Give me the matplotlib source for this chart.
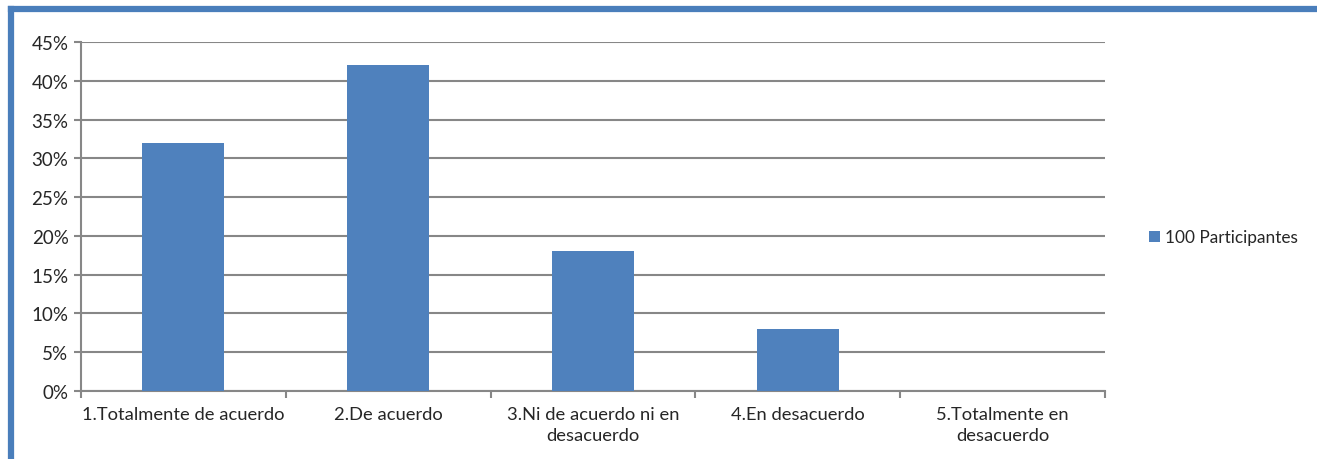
import matplotlib.pyplot as plt
from matplotlib.lines import Line2D
import numpy as np

categories = [
    "1.Totalmente de acuerdo",
    "2.De acuerdo",
    "3.Ni de acuerdo ni en\ndesacuerdo",
    "4.En desacuerdo",
    "5.Totalmente en\ndesacuerdo",
]
values = [32, 42, 18, 8, 0]
series_name = "100 Participantes"
yticks = [0, 5, 10, 15, 20, 25, 30, 35, 40, 45]

plt.rcParams["font.family"] = ["Lato", "DejaVu Sans"]

bar_color = "#4F81BD"
grid_color = "#878787"
text_color = "#262626"

fig = plt.figure(figsize=(13.17, 4.6), dpi=100)
ax = fig.add_axes([0.0615, 0.1478, 0.7775, 0.7587])

x = np.arange(len(categories))
ax.bar(x, values, width=0.4, color=bar_color, label=series_name, zorder=3)

ax.set_xlim(-0.5, len(categories) - 0.5)
ax.set_ylim(0, 45)
ax.set_yticks(yticks)
ax.set_yticklabels([f"{v}%" for v in yticks], fontsize=13.5, color=text_color)
ax.yaxis.grid(True, color=grid_color, linewidth=1.5, zorder=0)

ax.set_xticks(x)
ax.set_xticklabels(categories, fontsize=13.2, color=text_color, linespacing=1.35)
ax.set_xticks(np.arange(-0.5, len(categories)), minor=True)
ax.tick_params(axis="x", which="major", length=0, pad=11)
ax.tick_params(axis="x", which="minor", length=5, width=1.5, color=grid_color)
ax.tick_params(axis="y", length=5, width=1.5, color=grid_color, pad=4)

for side in ["top", "right"]:
    ax.spines[side].set_visible(False)
for side in ["left", "bottom"]:
    ax.spines[side].set_color(grid_color)
    ax.spines[side].set_linewidth(1.5)

ax.legend(loc="center left", bbox_to_anchor=(1.028, 0.44), frameon=False,
          fontsize=12.4, handlelength=0.65, handleheight=0.65, handletextpad=0.3,
          labelcolor=text_color)

# blue frame on top and left edges
fig.add_artist(Line2D([0.0083, 0.0083], [0, 0.979], color="#4A7EBB", linewidth=4.5,
                      transform=fig.transFigure))
fig.add_artist(Line2D([0.0083, 1.0], [0.979, 0.979], color="#4A7EBB", linewidth=4.5,
                      transform=fig.transFigure))

fig.savefig("out.png", dpi=100)
plt.close(fig)
